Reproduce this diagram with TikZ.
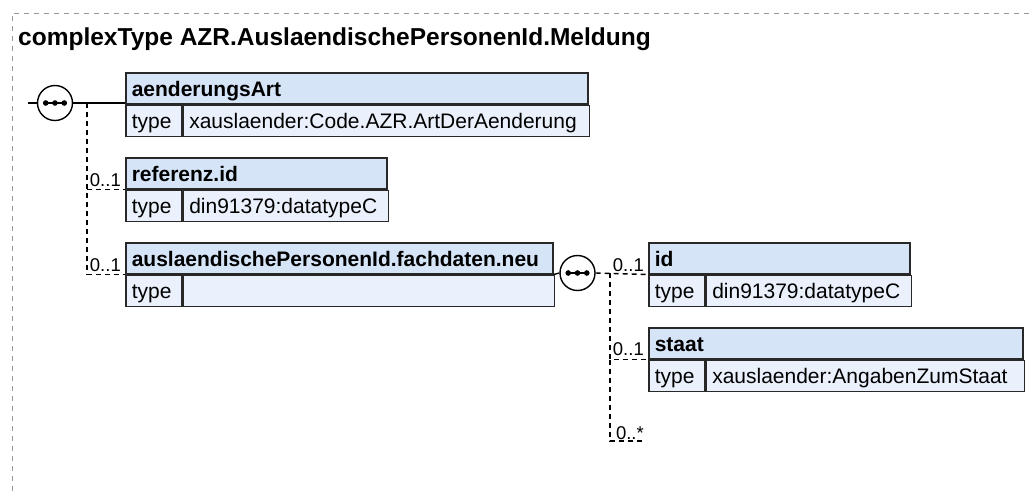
\documentclass[tikz,border=0pt]{standalone}
\usepackage{fontspec}
\setmainfont{Liberation Sans}
\definecolor{hdrfill}{RGB}{214,228,248}
\definecolor{rowfill}{RGB}{234,241,252}
\definecolor{boxline}{RGB}{40,40,40}
\definecolor{framegray}{RGB}{150,150,150}
\tikzset{
  boxcell/.style={draw=boxline, line width=1.5pt, inner xsep=6pt, inner ysep=0pt,
    minimum height=31pt, text height=15.5pt, text depth=0pt, anchor=north west, align=left},
  hdrcell/.style={boxcell, fill=hdrfill, font=\bfseries\fontsize{21}{24}\selectfont},
  rowcell/.style={boxcell, fill=rowfill, font=\fontsize{21}{24}\selectfont},
  seq/.style={circle, draw=black, line width=1.4pt, fill=white, minimum size=35pt, inner sep=0pt},
  solidlink/.style={draw=black, line width=1.4pt},
  optlink/.style={draw=black, line width=1.4pt, dash pattern=on 5pt off 4pt},
  card/.style={font=\fontsize{18.5}{20}\selectfont, inner sep=0pt, anchor=base east},
  framestyle/.style={draw=framegray, line width=1pt, dash pattern=on 5pt off 5pt},
}
\newcommand{\seqdots}[1]{%
  \draw[line width=1.4pt] ([xshift=-9.3pt]#1.center) -- ([xshift=9.3pt]#1.center);
  \fill ([xshift=-9.3pt]#1.center) circle (2.8pt);
  \fill (#1.center) circle (2.8pt);
  \fill ([xshift=9.3pt]#1.center) circle (2.8pt);
}
\begin{document}
\begin{tikzpicture}[x=1pt,y=-1pt]
\useasboundingbox (0,0) rectangle (1029,491);
\draw[framestyle] (1029,13) -- (12,13) -- (12,491);

\node[anchor=base west, inner sep=0pt, font=\bfseries\fontsize{24.5}{28}\selectfont] (title) at (18,45)
  {complexType AZR.AuslaendischePersonenId.Meldung};

% aenderungsArt
\node[hdrcell, text width=450pt] (aa) at (125,72) {aenderungsArt};
\node[rowcell, text width=44pt] (aat) at (aa.south west) {type};
\node[rowcell, text width=394pt] (aav) at (aat.north east) {xauslaender:Code.AZR.ArtDerAenderung};

% referenz.id
\node[hdrcell, text width=249pt] (rz) at (125,157) {referenz.id};
\node[rowcell, text width=44pt] (rzt) at (rz.south west) {type};
\node[rowcell, text width=193pt] (rzv) at (rzt.north east) {din91379:datatypeC};

% auslaendischePersonenId.fachdaten.neu
\node[hdrcell, text width=415pt] (ap) at (125,242) {auslaendischePersonenId.fachdaten.neu};
\node[rowcell, text width=44pt] (apt) at (ap.south west) {type};
\node[rowcell, text width=359pt] (apv) at (apt.north east) {};

% id
\node[hdrcell, text width=249pt] (idh) at (648,242) {id};
\node[rowcell, text width=44pt] (idt) at (idh.south west) {type};
\node[rowcell, text width=193pt] (idv) at (idt.north east) {din91379:datatypeC};

% staat
\node[hdrcell, text width=362pt] (st) at (648,327) {staat};
\node[rowcell, text width=44pt] (stt) at (st.south west) {type};
\node[rowcell, text width=306pt] (stv) at (stt.north east) {xauslaender:AngabenZumStaat};

% sequence 1
\node[seq] (s1) at (55,103) {};
\seqdots{s1}
\coordinate (in1) at (28,103);
\coordinate (j1) at (87,103);
\draw[solidlink] (in1) -- (s1.west);
\draw[solidlink] (s1.east) -- (s1.east -| aa.south west);
\draw[optlink] (j1) |- (ap.south west);
\draw[optlink] (rz.south west -| j1) -- (rz.south west);
\node[card] (c1) at (121,186) {0..1};
\node[card] (c2) at (121,271) {0..1};

% sequence 2
\node[seq] (s2) at (577.5,273) {};
\seqdots{s2}
\draw[solidlink] (ap.south east) -- (s2.west);
\coordinate (j2) at (610,273);
\coordinate (endstar) at (645,441);
\draw[optlink] (s2.east) -- (idh.south west);
\draw[optlink] (j2) |- (st.south west);
\draw[optlink] (st.south west -| j2) |- (endstar);
\node[card] (c3) at (644,271) {0..1};
\node[card] (c4) at (644,355) {0..1};
\node[card] (c5) at (644,439) {0..*};
\end{tikzpicture}
\end{document}
